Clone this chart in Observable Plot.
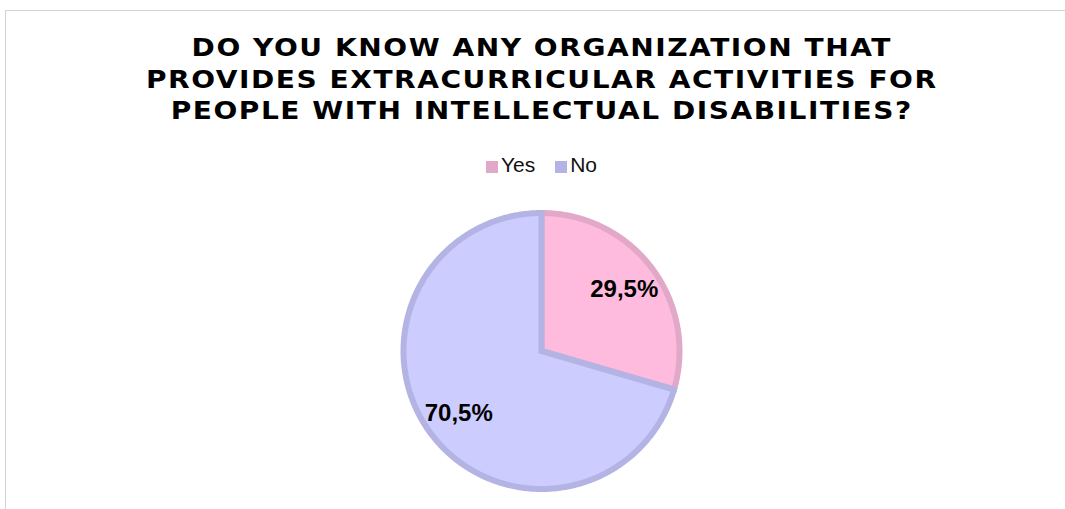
<!DOCTYPE html>
<html><head><meta charset="utf-8">
<script src="https://cdn.jsdelivr.net/npm/d3@7"></script>
<script src="https://cdn.jsdelivr.net/npm/@observablehq/plot@0.6"></script>
<style>
body{margin:0;background:#fff;width:1065px;height:509px;overflow:hidden;position:relative;font-family:"Liberation Sans",Arial,sans-serif}
#frame{position:absolute;left:5px;top:10px;width:1100px;height:600px;border-left:1px solid #d4d4d4;border-top:1px solid #d4d4d4}
#title{position:absolute;left:141px;width:800px;top:32px;text-align:center;font:bold 25.5px "DejaVu Sans";letter-spacing:1.4px;line-height:31.5px;color:#000;padding-left:1.4px;box-sizing:border-box;transform:scaleX(1.1);transform-origin:50% 0;white-space:nowrap}
#legend{position:absolute;top:153px;left:0;width:1083px;text-align:center;font-size:21px;color:#111;line-height:24px;white-space:nowrap}
#legend span.item{display:inline-block;margin:0 10px}
#legend i{display:inline-block;width:12px;height:12px;margin-right:3px;vertical-align:-1px}
#chart{position:absolute;left:0;top:195px}
</style></head>
<body>
<div id="frame"></div>
<div id="title">DO YOU KNOW ANY ORGANIZATION THAT<br>PROVIDES EXTRACURRICULAR ACTIVITIES FOR<br>PEOPLE WITH INTELLECTUAL DISABILITIES?</div>
<div id="legend"></div>
<div id="chart"></div>
<script>
const categories = ["Yes", "No"];
const values = [29.5, 70.5];
const fills = ["#FFBBDD", "#CCCCFF"];
const strokes = ["#E2A8C8", "#B4B4E4"];

// legend
const legend = document.getElementById("legend");
categories.forEach((c, i) => {
  const s = document.createElement("span");
  s.className = "item";
  s.innerHTML = `<i style="background:${strokes[i]}"></i>${c}`;
  legend.appendChild(s);
});

const data = categories.map((c, i) => ({category: c, value: values[i]}));
const arcs = d3.pie().sort(null).value(d => d.value).startAngle(0).endAngle(2 * Math.PI)(data);

// slice outlines in unit-circle data space (angle clockwise from top)
const pts = [];
arcs.forEach(a => {
  const cat = a.data.category;
  pts.push({category: cat, x: 0, y: 0});
  const n = Math.max(2, Math.ceil((a.endAngle - a.startAngle) / (Math.PI / 360)));
  for (let k = 0; k <= n; k++) {
    const t = a.startAngle + (a.endAngle - a.startAngle) * k / n;
    pts.push({category: cat, x: Math.sin(t), y: Math.cos(t)});
  }
});
const labels = arcs.map(a => {
  const m = (a.startAngle + a.endAngle) / 2;
  return {category: a.data.category, x: 0.75 * Math.sin(m), y: 0.75 * Math.cos(m),
          text: a.data.value.toFixed(1).replace(".", ",") + "%"};
});

const chart = Plot.plot({
  width: 1065, height: 314,
  marginLeft: 403, marginRight: 386, marginTop: 17.5, marginBottom: 20.5,
  x: {domain: [-1, 1], axis: null},
  y: {domain: [-1, 1], axis: null},
  color: {domain: categories, range: fills},
  style: {background: "transparent", overflow: "visible"},
  marks: [
    Plot.line(pts, {x: "x", y: "y", z: "category", fill: "category",
      stroke: d => strokes[categories.indexOf(d.category)], strokeWidth: 6,
      curve: "linear-closed", strokeLinejoin: "miter", strokeMiterlimit: 10}),
    Plot.text(labels, {x: "x", y: "y", text: "text", fontSize: 24, fontWeight: "bold",
      fontFamily: "Liberation Sans, Arial, sans-serif", fill: "#000"})
  ]
});
document.getElementById("chart").appendChild(chart);
</script>
</body></html>
